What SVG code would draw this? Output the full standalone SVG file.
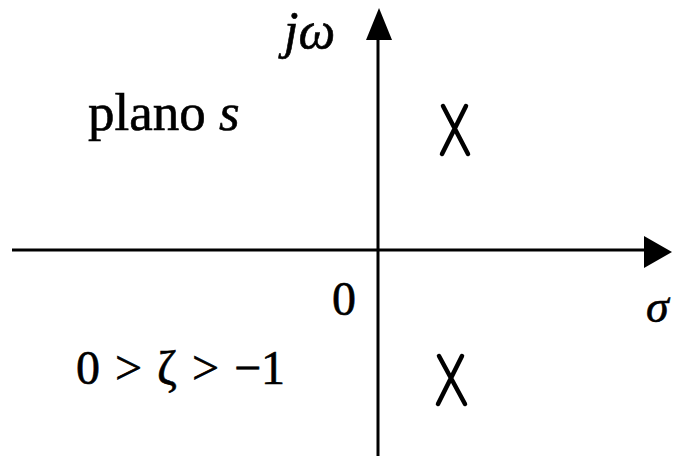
<svg xmlns="http://www.w3.org/2000/svg" width="680" height="456" viewBox="0 0 680 456">
<style>
.t{font-family:"Liberation Serif","Times New Roman",serif;fill:#000;stroke:#000;stroke-width:0.6;}
.i{font-style:italic;}
.ax{stroke:#000;stroke-width:3;fill:none;}
.pole{stroke:#000;stroke-width:4.5;stroke-linecap:round;fill:none;}
</style>
<rect width="680" height="456" fill="#fff"/>
<g id="connectors">
<line class="ax" x1="12" y1="250" x2="648" y2="250"/>
<polygon points="672,252 644,236 644,268" fill="#000"/>
<line class="ax" x1="378" y1="456" x2="378" y2="36"/>
<polygon points="379,8 366,40 392,40" fill="#000"/>
</g>
<g id="pole-upper"><path class="pole" d="M443,106 L468,154 M466,106 L442,154"/></g>
<g id="pole-lower"><path class="pole" d="M439,356 L465,404 M462,356 L438,404"/></g>
<g id="labels">
<text class="t i" x="284" y="48" font-size="52">jω</text>
<text class="t" x="88" y="130" font-size="53">plano <tspan class="i">s</tspan></text>
<text class="t" x="332" y="315" font-size="48">0</text>
<text class="t i" x="646" y="322" font-size="46">σ</text>
<text class="t" x="76" y="384" font-size="48" word-spacing="3">0 &gt; ζ &gt; −1</text>
</g>
</svg>
